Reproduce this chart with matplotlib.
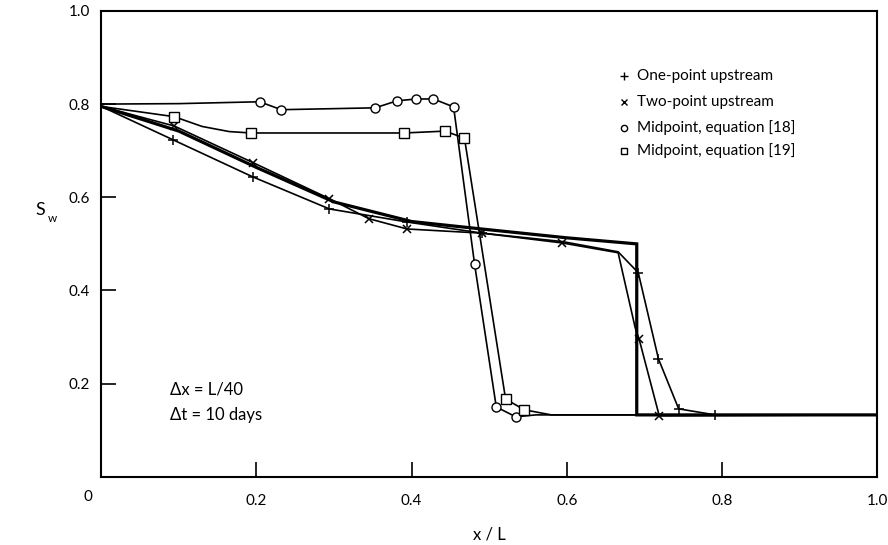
import matplotlib
matplotlib.use("Agg")
import matplotlib.pyplot as plt

plt.rcParams['font.family'] = ['Lato', 'DejaVu Sans']

# baseline (initial saturation) reached by every curve downstream of the front
S_INIT = 0.133

# analytical solution (thick line)
exact_x = [0.0, 0.1, 0.2, 0.3, 0.4, 0.49, 0.6, 0.69, 0.69, 1.0]
exact_y = [0.795, 0.742, 0.664, 0.590, 0.548, 0.532, 0.513, 0.500, S_INIT, S_INIT]

# one-point upstream
one_line_x = [0.0, 0.093, 0.195, 0.294, 0.394, 0.491, 0.594, 0.666, 0.692, 0.718, 0.744, 0.791, 1.0]
one_line_y = [0.795, 0.723, 0.644, 0.575, 0.547, 0.523, 0.505, 0.483, 0.438, 0.253, 0.146, 0.133, S_INIT]
one_pts_x = [0.093, 0.195, 0.294, 0.394, 0.491, 0.692, 0.718, 0.744, 0.791]
one_pts_y = [0.723, 0.644, 0.575, 0.547, 0.523, 0.438, 0.253, 0.146, 0.133]

# two-point upstream
two_line_x = [0.0, 0.094, 0.196, 0.294, 0.345, 0.394, 0.491, 0.594, 0.666, 0.688, 0.693, 0.719, 1.0]
two_line_y = [0.795, 0.753, 0.674, 0.597, 0.554, 0.532, 0.523, 0.502, 0.481, 0.32, 0.296, 0.131, S_INIT]
two_pts_x = [0.094, 0.196, 0.294, 0.345, 0.394, 0.491, 0.594, 0.693, 0.719]
two_pts_y = [0.753, 0.674, 0.597, 0.554, 0.532, 0.523, 0.502, 0.296, 0.131]

# midpoint, equation [18]
mid18_line_x = [0.0, 0.1, 0.204, 0.232, 0.353, 0.381, 0.406, 0.428, 0.454, 0.481, 0.509, 0.534, 0.56, 1.0]
mid18_line_y = [0.800, 0.801, 0.805, 0.788, 0.792, 0.807, 0.811, 0.811, 0.794, 0.457, 0.150, 0.129, S_INIT, S_INIT]
mid18_pts_x = [0.204, 0.232, 0.353, 0.381, 0.406, 0.428, 0.454, 0.481, 0.509, 0.534]
mid18_pts_y = [0.805, 0.788, 0.792, 0.807, 0.811, 0.811, 0.794, 0.457, 0.150, 0.129]

# midpoint, equation [19]
mid19_line_x = [0.0, 0.094, 0.13, 0.165, 0.193, 0.390, 0.443, 0.468, 0.521, 0.545, 0.58, 1.0]
mid19_line_y = [0.795, 0.773, 0.752, 0.741, 0.738, 0.738, 0.742, 0.727, 0.167, 0.144, S_INIT, S_INIT]
mid19_pts_x = [0.094, 0.193, 0.390, 0.443, 0.468, 0.521, 0.545]
mid19_pts_y = [0.773, 0.738, 0.738, 0.742, 0.727, 0.167, 0.144]

legend_labels = ['One-point upstream', 'Two-point upstream',
                 'Midpoint, equation [18]', 'Midpoint, equation [19]']

x_ticks = [0.2, 0.4, 0.6, 0.8, 1.0]
y_ticks = [0.2, 0.4, 0.6, 0.8, 1.0]

fig = plt.figure(figsize=(8.88, 5.45), dpi=100)
ax = fig.add_axes([0.114, 0.125, 0.874, 0.855])

ax.plot(exact_x, exact_y, color='black', lw=2.3, solid_joinstyle='miter')
ax.plot(one_line_x, one_line_y, color='black', lw=1.2)
ax.plot(two_line_x, two_line_y, color='black', lw=1.2)
ax.plot(mid18_line_x, mid18_line_y, color='black', lw=1.2)
ax.plot(mid19_line_x, mid19_line_y, color='black', lw=1.2)

ax.plot(one_pts_x, one_pts_y, ls='none', marker='+', ms=7.5, mew=1.1,
        color='black', zorder=5)
ax.plot(two_pts_x, two_pts_y, ls='none', marker='x', ms=6, mew=1.1,
        color='black', zorder=5)
ax.plot(mid18_pts_x, mid18_pts_y, ls='none', marker='o', ms=6.5, mew=1.0,
        mfc='white', mec='black', zorder=5)
ax.plot(mid19_pts_x, mid19_pts_y, ls='none', marker='s', ms=6.5, mew=1.0,
        mfc='white', mec='black', zorder=5)

# key, top right
key_markers = [('+', 6), ('x', 4.5), ('o', 4.5), ('s', 4.5)]
key_y = [0.861, 0.805, 0.749, 0.700]
for (m, s), y, lab in zip(key_markers, key_y, legend_labels):
    ax.plot([0.674], [y], transform=ax.transAxes, marker=m, ms=s, mew=1.0,
            mfc='white', mec='black', ls='none', clip_on=False)
    ax.text(0.690, y, lab, transform=ax.transAxes, fontsize=11,
            va='center', ha='left')

ax.text(0.088, 0.187, '\u0394x = L/40', fontsize=12, va='center', ha='left')
ax.text(0.088, 0.133, '\u0394t = 10 days', fontsize=12, va='center', ha='left')

ax.set_xlim(0, 1.0)
ax.set_ylim(0, 1.0)
ax.set_xticks(x_ticks)
ax.set_yticks(y_ticks)
ax.set_xticklabels(['0.2', '0.4', '0.6', '0.8', '1.0'])
ax.set_yticklabels(['0.2', '0.4', '0.6', '0.8', '1.0'])
ax.tick_params(direction='in', length=11, width=1.2, labelsize=11)
ax.tick_params(axis='x', pad=12)
ax.tick_params(axis='y', pad=8)
for sp in ax.spines.values():
    sp.set_linewidth(1.5)

# shared origin label
fig.text(88 / 888, 1 - 497 / 545, '0', fontsize=11, ha='center', va='center')

ax.set_xlabel('x / L', fontsize=12, labelpad=14)
fig.text(40 / 888, 1 - 210 / 545, 'S', fontsize=13, ha='center', va='center')
fig.text(52 / 888, 1 - 218 / 545, 'w', fontsize=8.5, ha='center', va='center')

fig.savefig('out.png', dpi=100)
